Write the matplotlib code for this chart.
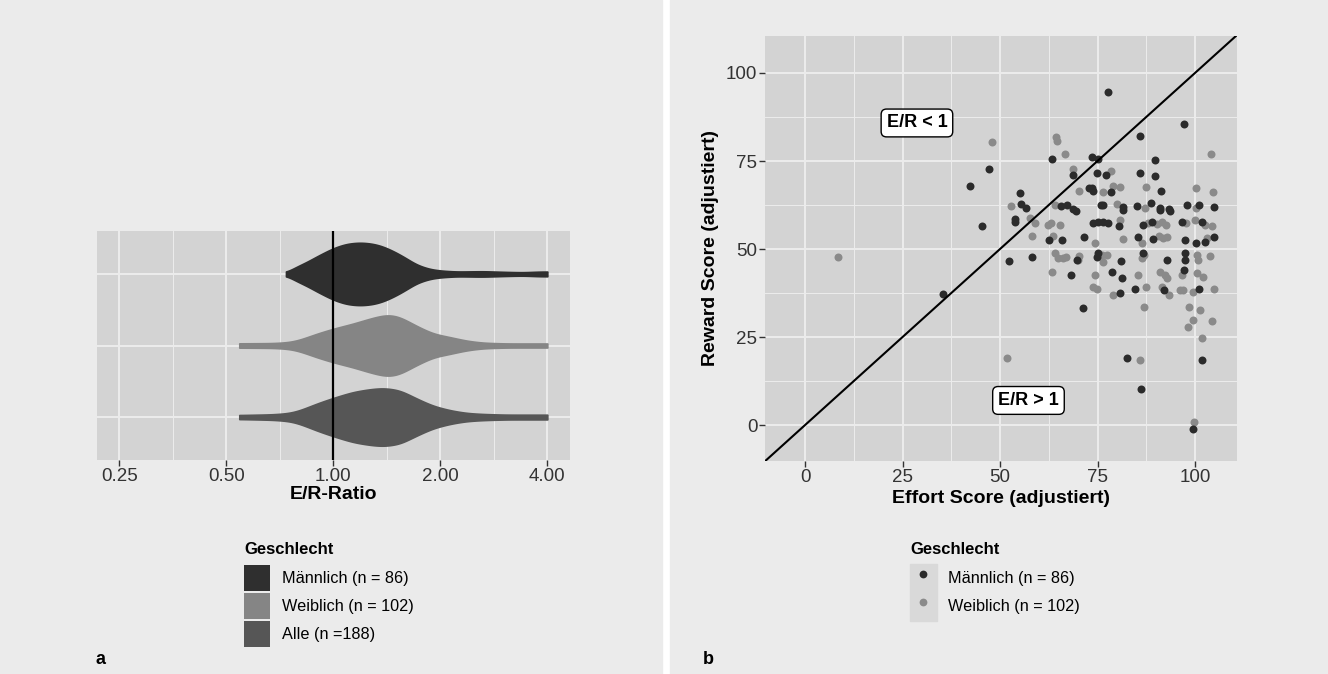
import numpy as np
import matplotlib.pyplot as plt
from matplotlib.patches import Patch, Rectangle
from matplotlib.lines import Line2D
from matplotlib.ticker import NullFormatter

plt.rcParams['font.family'] = ['Liberation Sans', 'DejaVu Sans']

# ---- panel a: E/R ratio violins ----
groups = ['Männlich (n = 86)', 'Weiblich (n = 102)', 'Alle (n =188)']
group_pos = [3, 2, 1]
group_colors = ['#2f2f2f', '#858585', '#565656']

# violin outlines: E/R ratio and half width (share of the category step)
ratio_m = [0.736, 0.755, 0.789, 0.841, 0.898, 1.0, 1.09, 1.19, 1.296, 1.38, 1.475,
           1.574, 1.716, 1.871, 2.0, 2.22, 2.64, 3.07, 3.42, 3.82, 4.0]
width_m = [0.019, 0.047, 0.103, 0.164, 0.244, 0.362, 0.423, 0.441, 0.423, 0.385, 0.32,
           0.244, 0.127, 0.066, 0.047, 0.033, 0.038, 0.028, 0.023, 0.033, 0.033]
ratio_w = [0.544, 0.678, 0.755, 0.806, 0.898, 1.0, 1.138, 1.268, 1.382, 1.444, 1.54,
           1.716, 1.91, 2.13, 2.37, 2.64, 3.07, 4.0]
width_w = [0.03, 0.033, 0.047, 0.08, 0.164, 0.235, 0.305, 0.376, 0.423, 0.432, 0.40,
           0.272, 0.164, 0.117, 0.066, 0.038, 0.028, 0.028]
ratio_a = [0.544, 0.678, 0.755, 0.806, 0.898, 1.0, 1.138, 1.268, 1.382, 1.54,
           1.716, 1.91, 2.13, 2.37, 2.64, 3.07, 4.0]
width_a = [0.028, 0.038, 0.056, 0.094, 0.188, 0.268, 0.352, 0.39, 0.408, 0.376,
           0.258, 0.155, 0.094, 0.056, 0.042, 0.033, 0.033]

ratio_ticks = [0.25, 0.5, 1, 2, 4]
ratio_labels = ['0.25', '0.50', '1.00', '2.00', '4.00']

# ---- panel b: effort vs reward ----
male_effort = [77.7, 97.2, 85.9, 73.6, 75.1, 89.7, 74.9, 77.2, 85.9, 89.7, 73.6, 73.8,
               78.5, 91.3, 75.9, 76.4, 81.5, 85.1, 88.7, 91.0, 93.3, 97.9, 101.0, 104.9,
               63.3, 47.2, 42.3, 68.7, 55.1, 55.4, 56.7, 65.6, 67.2, 68.7, 69.5, 53.8,
               45.4, 62.6, 65.9, 71.5, 52.3, 58.2, 69.7, 68.2, 35.4, 71.3,
               73.8, 75.1, 76.4, 77.7, 80.5, 86.7, 89.0, 96.7, 101.8,
               85.4, 89.2, 97.4, 100.3, 102.6, 104.9, 75.1, 74.9, 81.0, 86.7, 92.8,
               97.4, 97.4, 78.7, 81.3, 97.2, 84.6, 92.1, 101.0, 80.8,
               82.6, 101.8, 86.2, 99.5, 81.5, 93.6, 72.8, 53.8, 91.0]
male_reward = [94.6, 85.5, 82.1, 76.1, 75.6, 75.3, 71.6, 71.0, 71.6, 70.7, 67.3, 66.5,
               66.2, 66.5, 62.5, 62.5, 61.9, 62.2, 63.1, 61.6, 61.4, 62.5, 62.5, 61.9,
               75.6, 72.7, 67.9, 71.0, 65.9, 62.8, 61.6, 62.2, 62.5, 61.4, 60.8, 58.5,
               56.5, 52.6, 52.6, 53.4, 46.6, 47.7, 46.9, 42.6, 37.2, 33.2,
               57.4, 57.7, 57.7, 57.4, 56.5, 56.8, 57.7, 57.7, 57.7,
               53.4, 52.8, 52.6, 51.7, 52.0, 53.4, 48.9, 47.7, 46.6, 48.9, 46.9,
               48.9, 46.9, 43.5, 41.8, 44.0, 38.6, 38.4, 38.6, 37.5,
               19.0, 18.5, 10.2, -1.1, 61.1, 60.8, 67.3, 57.7, 61.1]

female_effort = [78.5, 76.4, 79.0, 80.8, 87.4, 80.0, 87.2, 100.3, 104.6, 104.1, 100.3,
                 47.9, 64.4, 64.6, 66.7, 68.7, 70.3, 52.8, 64.1, 57.7,
                 59.0, 58.2, 62.3, 63.1, 65.4, 63.6, 64.1, 64.9, 66.2, 66.9, 70.3, 70.0, 63.3,
                 80.8, 87.9, 90.3, 91.5, 92.6, 97.7, 100.0, 102.6, 104.4,
                 74.4, 81.5, 86.4, 91.8, 92.8, 90.8, 103.1, 76.2, 77.4, 76.4, 86.4, 86.9,
                 100.5, 100.8, 103.8,
                 74.4, 85.4, 91.0, 92.3, 92.8, 96.7, 100.5, 102.1, 73.8, 74.9, 87.4, 91.5,
                 96.2, 96.9, 104.9, 99.5, 79.0, 93.3,
                 86.9, 98.5, 101.4, 99.5, 104.4, 98.2, 101.8, 85.9, 99.7, 51.8, 8.5]
female_reward = [72.2, 66.2, 67.9, 67.6, 67.6, 62.8, 61.6, 67.3, 66.2, 77.0, 61.6,
                 80.4, 81.8, 80.7, 77.0, 72.7, 66.5, 62.2, 62.5, 58.8,
                 57.4, 53.7, 56.8, 57.4, 56.8, 53.7, 48.9, 47.4, 47.4, 47.7, 48.0, 46.9, 43.5,
                 58.2, 57.4, 57.1, 57.7, 56.8, 57.4, 58.2, 56.8, 56.5,
                 51.7, 52.8, 51.7, 53.1, 53.4, 53.7, 53.1, 48.3, 48.3, 46.3, 47.4, 48.3,
                 48.3, 46.9, 48.0,
                 42.6, 42.6, 43.5, 42.6, 41.8, 42.6, 43.2, 42.0, 39.2, 38.6, 39.2, 39.2,
                 38.4, 38.4, 38.6, 37.8, 36.9, 36.9,
                 33.5, 33.5, 32.7, 29.8, 29.5, 27.8, 24.7, 18.5, 0.9, 19.0, 47.7]

score_ticks = [0, 25, 50, 75, 100]
score_minor = [12.5, 37.5, 62.5, 87.5]
scatter_labels = ['Männlich (n = 86)', 'Weiblich (n = 102)']
scatter_colors = ['#2b2b2b', '#8a8a8a']

W, H = 1328, 674
outer_bg = '#ebebeb'
panel_bg = '#d3d3d3'
grid_col = '#ececec'
tick_col = '#333333'


def violin_outline(ratio, width, n=400):
    lx = np.log2(ratio)
    grid = np.linspace(lx[0], lx[-1], n)
    w = np.interp(grid, lx, width)
    k = np.exp(-0.5 * (np.arange(-25, 26) / 8.0) ** 2)
    k /= k.sum()
    w = np.convolve(np.pad(w, 25, mode='edge'), k, mode='valid')
    return 2 ** grid, w


def style_panel(ax):
    ax.set_facecolor(panel_bg)
    for s in ax.spines.values():
        s.set_visible(False)
    ax.grid(True, which='major', color=grid_col, lw=1.4, zorder=0)
    ax.grid(True, which='minor', color=grid_col, lw=0.7, zorder=0)
    ax.set_axisbelow(True)
    ax.tick_params(which='major', length=4, width=1, color=tick_col,
                   labelcolor=tick_col, labelsize=13.5, pad=1.5)
    ax.tick_params(which='minor', length=0)


def add_legend(handles, labels, x, y):
    # title set as plain text so the gap above the keys can be set freely
    fig.text(x / W, 1 - (y - 16) / H, 'Geschlecht', fontsize=12, fontweight='bold',
             va='center', ha='left')
    return fig.legend(handles, labels, loc='upper left', bbox_to_anchor=(x / W, 1 - y / H),
                      frameon=False, fontsize=11.7, borderpad=0, borderaxespad=0,
                      handlelength=1.62, handleheight=2.05,
                      labelspacing=0.16, handletextpad=0.7)


fig = plt.figure(figsize=(W / 100, H / 100), dpi=100, facecolor='white')
fig.add_artist(Rectangle((0, 0), 662 / W, 1, transform=fig.transFigure,
                         color=outer_bg, zorder=-10))
fig.add_artist(Rectangle((670 / W, 0), 1 - 670 / W, 1, transform=fig.transFigure,
                         color=outer_bg, zorder=-10))

# panel a
ax1 = fig.add_axes([97 / W, 1 - 460 / H, 473 / W, 229 / H])
style_panel(ax1)
ax1.set_xscale('log', base=2)
ax1.set_xlim(2 ** -2.208, 2 ** 2.212)
ax1.set_ylim(0.4, 3.6)
ax1.set_xticks(ratio_ticks)
ax1.set_xticklabels(ratio_labels)
ax1.set_xticks([2 ** (e + 0.5) for e in range(-2, 2)], minor=True)
ax1.xaxis.set_minor_formatter(NullFormatter())
ax1.set_yticks(group_pos)
ax1.set_yticklabels([])
ax1.tick_params(axis='y', length=0)
for (r, w), c, p in zip([(ratio_m, width_m), (ratio_w, width_w), (ratio_a, width_a)],
                        group_colors, group_pos):
    xs, ws = violin_outline(r, w)
    ax1.fill_between(xs, p - ws, p + ws, facecolor=c, edgecolor=c, lw=1.2, zorder=2)
ax1.axvline(1, color='black', lw=1.6, zorder=3)
ax1.set_xlabel('E/R-Ratio', fontsize=14, fontweight='bold', labelpad=1)

add_legend([Patch(facecolor=c, edgecolor='none') for c in group_colors], groups, 244, 565)

# panel b
ax2 = fig.add_axes([765 / W, 1 - 461 / H, 472 / W, 425 / H])
style_panel(ax2)
ax2.set_xlim(-10.26, 110.77)
ax2.set_ylim(-10.2, 110.5)
ax2.set_xticks(score_ticks)
ax2.set_yticks(score_ticks)
ax2.set_xticks(score_minor, minor=True)
ax2.set_yticks(score_minor, minor=True)
ax2.scatter(female_effort, female_reward, s=33, color=scatter_colors[1], lw=0, zorder=2)
ax2.scatter(male_effort, male_reward, s=33, color=scatter_colors[0], lw=0, zorder=2)
ax2.axline((0, 0), (1, 1), color='black', lw=1.5, zorder=3)
box = dict(boxstyle='round,pad=0.3,rounding_size=0.3', fc='white', ec='black', lw=1)
ax2.text(28.7, 85.8, 'E/R < 1', ha='center', va='center', fontsize=13,
         fontweight='bold', bbox=box, zorder=4)
ax2.text(57.3, 7.0, 'E/R > 1', ha='center', va='center', fontsize=13,
         fontweight='bold', bbox=box, zorder=4)
ax2.set_xlabel('Effort Score (adjustiert)', fontsize=14, fontweight='bold', labelpad=3)
ax2.set_ylabel('Reward Score (adjustiert)', fontsize=14, fontweight='bold', labelpad=5)

fig.add_artist(Rectangle((910 / W, 1 - 621 / H), 27 / W, 57 / H, transform=fig.transFigure,
                         color='#d9d9d9', zorder=-5))
add_legend([Line2D([], [], ls='', marker='o', markersize=5.6, color=c, markeredgewidth=0)
            for c in scatter_colors], scatter_labels, 910, 565)

fig.text(96 / W, 1 - 660 / H, 'a', fontsize=13, fontweight='bold', va='center')
fig.text(703 / W, 1 - 660 / H, 'b', fontsize=13, fontweight='bold', va='center')

fig.savefig('out.png', dpi=100, facecolor=fig.get_facecolor())
